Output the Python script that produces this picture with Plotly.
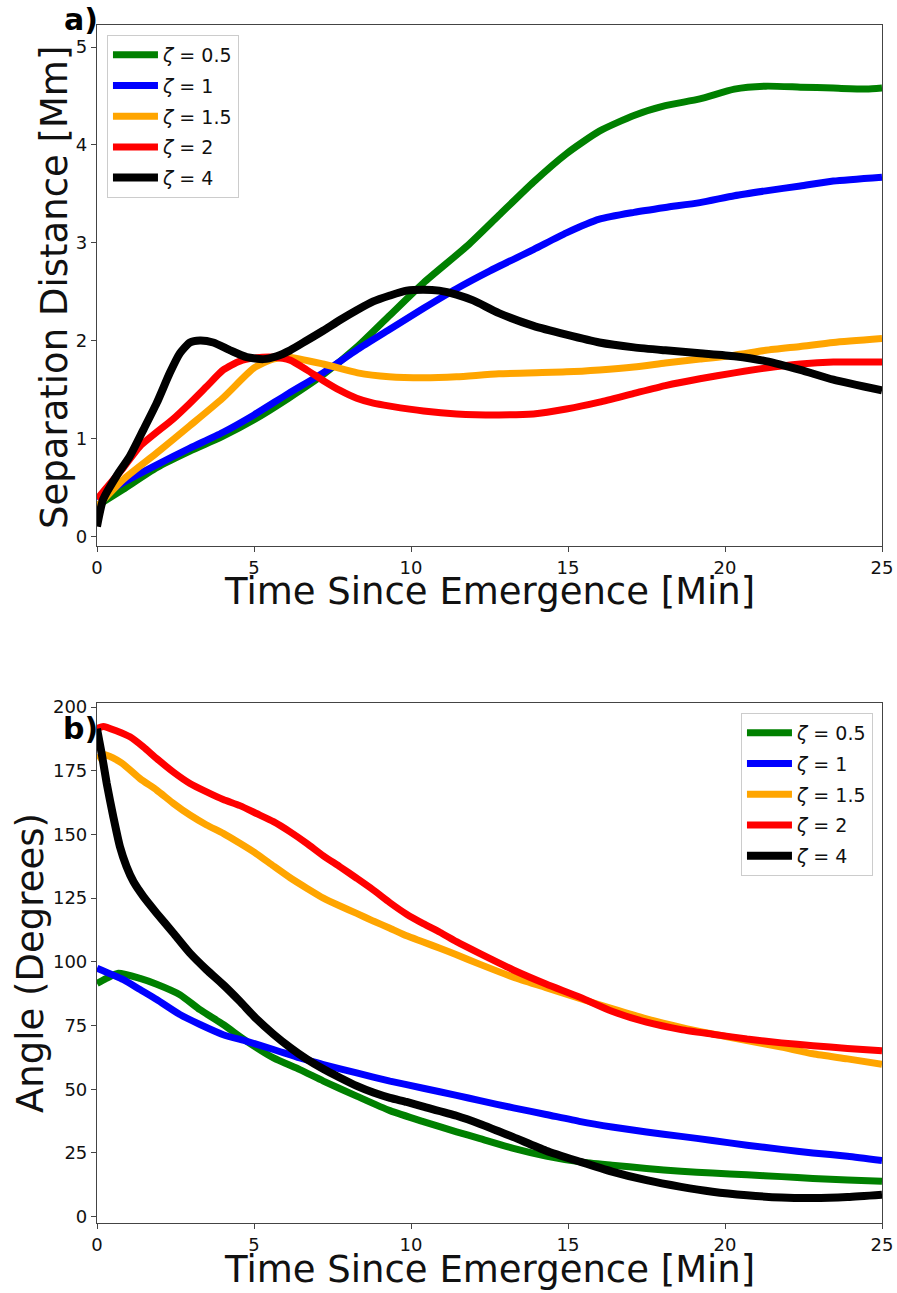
import plotly.graph_objects as go

# ---- Panel a): separation distance [Mm] vs time [min] ----
sep_labels = ["<i>ζ</i> = 0.5", "<i>ζ</i> = 1", "<i>ζ</i> = 1.5", "<i>ζ</i> = 2", "<i>ζ</i> = 4"]
colors = ["#008000", "#0000ff", "#ffa500", "#ff0000", "#000000"]

sep_t_05 = [0, 0.84, 1.9, 2.96, 4.0, 5.0, 6.1, 7.2, 8.3, 9.3, 10.4, 11.8, 12.8, 13.9, 14.95,
            16.0, 17.1, 18.1, 19.2, 20.3, 21.3, 22.4, 23.45, 24.5, 25]
sep_v_05 = [0.31, 0.48, 0.70, 0.87, 1.02, 1.19, 1.41, 1.65, 1.94, 2.25, 2.59, 2.97, 3.28, 3.62, 3.91,
            4.14, 4.30, 4.40, 4.47, 4.57, 4.60, 4.59, 4.58, 4.57, 4.58]

sep_t_1 = [0, 0.84, 1.9, 2.96, 4.0, 5.0, 6.1, 7.2, 8.3, 9.3, 10.4, 11.45, 12.5, 13.9, 14.95,
           16.0, 17.1, 18.1, 19.2, 20.3, 21.3, 22.4, 23.45, 25]
sep_v_1 = [0.38, 0.55, 0.73, 0.90, 1.06, 1.24, 1.46, 1.67, 1.91, 2.11, 2.33, 2.53, 2.71, 2.93, 3.10,
           3.24, 3.31, 3.36, 3.41, 3.48, 3.53, 3.58, 3.63, 3.67]

sep_t_15 = [0, 0.84, 1.9, 2.96, 4.0, 5.0, 5.6, 6.1, 7.2, 8.3, 9.3, 10.4, 11.45, 12.8, 14.95,
            16.0, 17.1, 18.1, 19.2, 20.3, 21.3, 22.4, 23.45, 25]
sep_v_15 = [0.30, 0.58, 0.85, 1.13, 1.41, 1.72, 1.81, 1.83, 1.76, 1.67, 1.63, 1.62, 1.63, 1.66, 1.68,
            1.70, 1.73, 1.77, 1.81, 1.85, 1.90, 1.94, 1.98, 2.02]

sep_t_2 = [0, 0.84, 1.37, 2.43, 2.96, 3.49, 4.02, 4.55, 5.0, 5.62, 6.15, 6.68, 7.21, 7.74, 8.27,
           8.8, 9.33, 10.4, 11.45, 12.8, 13.9, 14.95, 16.0, 17.1, 18.1, 19.2, 20.3, 21.3, 22.4, 23.45, 25]
sep_v_2 = [0.38, 0.70, 0.92, 1.20, 1.36, 1.53, 1.70, 1.79, 1.82, 1.83, 1.80, 1.70, 1.59, 1.49, 1.41,
           1.36, 1.33, 1.28, 1.25, 1.24, 1.25, 1.30, 1.37, 1.46, 1.54, 1.61, 1.67, 1.72, 1.76, 1.78, 1.78]

sep_t_4 = [0, 0.2, 0.63, 1.05, 1.48, 1.9, 2.32, 2.64, 2.96, 3.28, 3.7, 4.24, 4.77, 5.3, 5.72,
           6.15, 6.68, 7.2, 7.74, 8.27, 8.8, 9.33, 9.86, 10.4, 10.9, 11.45, 11.98, 12.8, 13.9, 14.95,
           16.0, 17.1, 18.1, 19.2, 20.3, 21.3, 22.4, 23.45, 25]
sep_v_4 = [0.10, 0.38, 0.62, 0.82, 1.09, 1.36, 1.67, 1.87, 1.98, 2.00, 1.98, 1.90, 1.83, 1.81, 1.84,
           1.90, 2.00, 2.10, 2.21, 2.31, 2.40, 2.46, 2.51, 2.52, 2.51, 2.47, 2.41, 2.28, 2.15, 2.06,
           1.98, 1.93, 1.90, 1.87, 1.84, 1.79, 1.70, 1.60, 1.49]

# ---- Panel b): angle [degrees] vs time [min] ----
ang_t_05 = [0, 0.3, 0.68, 1.37, 1.9, 2.64, 3.28, 4.02, 4.77, 5.62, 6.46, 7.21, 8.27, 9.33, 10.39,
            11.45, 12.2, 13.26, 14.3, 15.4, 16.4, 17.5, 18.6, 19.6, 20.7, 21.8, 22.8, 23.9, 25]
ang_v_05 = [91.5, 93.5, 95.5, 93.5, 91.2, 87.1, 81.2, 75.4, 68.8, 62.3, 57.7, 53.2, 47.3, 41.6, 37.3,
            33.3, 30.6, 26.8, 23.8, 21.5, 20.2, 18.9, 17.8, 17.1, 16.4, 15.7, 15.0, 14.4, 13.9]

ang_t_1 = [0, 0.84, 1.37, 1.9, 2.64, 3.28, 4.02, 4.77, 5.62, 6.46, 7.21, 8.27, 9.33, 10.39, 11.45,
           12.2, 13.26, 14.3, 15.4, 16.4, 17.5, 18.6, 19.6, 20.7, 21.8, 22.8, 23.9, 25]
ang_v_1 = [97.5, 93.0, 89.1, 85.2, 79.3, 75.4, 71.4, 68.8, 65.6, 62.3, 59.7, 56.4, 53.2, 50.4, 47.6,
           45.5, 42.7, 40.1, 37.3, 35.2, 33.2, 31.5, 29.9, 28.0, 26.4, 25.0, 23.7, 22.0]

ang_t_15 = [0, 0.25, 0.78, 1.37, 1.9, 2.43, 2.96, 3.49, 4.02, 4.55, 5.08, 5.62, 6.15, 6.68, 7.21,
            7.74, 8.27, 8.8, 9.33, 9.86, 10.39, 10.92, 11.45, 12.2, 13.26, 14.3, 15.4, 16.4, 17.5, 18.6,
            19.6, 20.7, 21.8, 22.8, 23.9, 25]
ang_v_15 = [179.8, 181.3, 178.1, 171.9, 167.4, 162.2, 157.6, 153.7, 150.4, 146.5, 142.4, 137.6, 133.0,
            128.9, 125.0, 121.9, 119.0, 116.0, 113.2, 110.2, 107.8, 105.3, 102.8, 99.0, 94.0, 89.9,
            85.5, 81.6, 77.6, 74.3, 71.7, 69.1, 66.5, 63.9, 61.9, 59.8]

ang_t_2 = [0, 0.2, 0.63, 1.05, 1.48, 1.9, 2.43, 2.96, 3.49, 4.02, 4.55, 5.08, 5.62, 6.15, 6.68,
           7.21, 7.74, 8.27, 8.8, 9.33, 9.86, 10.39, 10.92, 11.45, 12.2, 13.26, 14.3, 15.4, 16.4, 17.5,
           18.6, 19.6, 20.7, 21.8, 22.8, 23.9, 25]
ang_v_2 = [191.5, 192.4, 190.6, 188.3, 184.3, 179.8, 174.5, 170.0, 166.7, 163.7, 161.3, 158.2, 155.0,
           151.0, 146.5, 141.6, 137.3, 132.8, 128.2, 123.2, 118.7, 115.0, 111.6, 107.9, 103.2, 96.8,
           91.3, 86.0, 80.6, 76.3, 73.4, 71.6, 69.7, 68.2, 67.1, 66.0, 65.1]

ang_t_4 = [0, 0.15, 0.31, 0.52, 0.73, 0.94, 1.16, 1.48, 1.9, 2.43, 2.96, 3.49, 4.02, 4.55, 5.08,
           5.62, 6.15, 6.68, 7.21, 7.74, 8.27, 8.8, 9.33, 9.86, 10.39, 11.45, 12.2, 13.26, 14.3, 15.4,
           16.4, 17.5, 18.6, 19.6, 20.7, 21.8, 22.8, 23.9, 25]
ang_v_4 = [191.5, 181.7, 170.0, 156.9, 145.2, 137.4, 131.5, 125.6, 119.1, 111.3, 103.4, 96.9, 91.0,
           84.5, 77.6, 71.6, 66.4, 61.8, 57.9, 54.5, 51.3, 48.7, 46.6, 45.0, 43.2, 39.6, 36.4, 31.2,
           25.9, 21.5, 17.7, 14.3, 11.7, 9.8, 8.4, 7.5, 7.3, 7.7, 8.6]

x_ticks = [0, 5, 10, 15, 20, 25]
sep_ticks = [0, 1, 2, 3, 4, 5]
ang_ticks = [0, 25, 50, 75, 100, 125, 150, 175, 200]

sep_series = [(sep_t_05, sep_v_05), (sep_t_1, sep_v_1), (sep_t_15, sep_v_15),
              (sep_t_2, sep_v_2), (sep_t_4, sep_v_4)]
ang_series = [(ang_t_05, ang_v_05), (ang_t_1, ang_v_1), (ang_t_15, ang_v_15),
              (ang_t_2, ang_v_2), (ang_t_4, ang_v_4)]

FONT = "DejaVu Sans"
fig = go.Figure()

for i, (t, v) in enumerate(sep_series):
    fig.add_trace(go.Scatter(
        x=t, y=v, mode="lines", name=sep_labels[i], legendgroup="a%d" % i,
        line=dict(color=colors[i], width=8 if i == 4 else 7, shape="spline", smoothing=0.6),
        xaxis="x", yaxis="y", legend="legend"))

for i, (t, v) in enumerate(ang_series):
    fig.add_trace(go.Scatter(
        x=t, y=v, mode="lines", name=sep_labels[i], legendgroup="b%d" % i,
        line=dict(color=colors[i], width=8 if i == 4 else 7, shape="spline", smoothing=0.6),
        xaxis="x2", yaxis="y2", legend="legend2"))

axis_common = dict(
    showline=True, linecolor="#444444", linewidth=1.2, mirror=True,
    ticks="outside", ticklen=5, tickwidth=1, tickcolor="#444444",
    showgrid=False, zeroline=False, automargin=False,
    tickfont=dict(family=FONT, size=18, color="#111111"),
)

top_dom = [0.5651, 1.0]
bot_dom = [0.0, 0.4341]

legend_common = dict(
    bgcolor="white", bordercolor="#cccccc", borderwidth=1,
    font=dict(family=FONT, size=19, color="#111111"),
    itemwidth=45, tracegroupgap=3,
)

fig.update_layout(
    width=897, height=1293,
    margin=dict(l=97, r=15, t=25, b=70, autoexpand=False),
    paper_bgcolor="white", plot_bgcolor="white",
    font=dict(family=FONT, color="#111111"),
    xaxis=dict(domain=[0, 1], anchor="y", range=[0, 25], tickvals=x_ticks, **axis_common),
    yaxis=dict(domain=top_dom, anchor="x", range=[-0.10, 5.225], tickvals=sep_ticks, **axis_common),
    xaxis2=dict(domain=[0, 1], anchor="y2", range=[0, 25], tickvals=x_ticks, **axis_common),
    yaxis2=dict(domain=bot_dom, anchor="x2", range=[-2.5, 201.6], tickvals=ang_ticks, **axis_common),
    legend=dict(x=0.0127, y=0.9917, xanchor="left", yanchor="top", **legend_common),
    legend2=dict(x=0.9885, y=0.4257, xanchor="right", yanchor="top", **legend_common),
    showlegend=True,
)

title_font = dict(family=FONT, size=37, color="#111111")
annotations = [
    dict(text="Time Since Emergence [Min]", x=0.5, y=0.527, xref="paper", yref="paper",
         showarrow=False, font=title_font, xanchor="center", yanchor="middle"),
    dict(text="Time Since Emergence [Min]", x=0.5, y=-0.039, xref="paper", yref="paper",
         showarrow=False, font=title_font, xanchor="center", yanchor="middle"),
    dict(text="Separation Distance [Mm]", x=-0.0535, y=0.7805, xref="paper", yref="paper",
         showarrow=False, font=title_font, textangle=-90, xanchor="center", yanchor="middle"),
    dict(text="Angle (Degrees)", x=-0.0854, y=0.217, xref="paper", yref="paper",
         showarrow=False, font=title_font, textangle=-90, xanchor="center", yanchor="middle"),
    dict(text="<b>a)</b>", x=-0.0204, y=1.0042, xref="paper", yref="paper",
         showarrow=False, font=dict(family=FONT, size=30, color="#000000"),
         xanchor="center", yanchor="middle"),
    dict(text="<b>b)</b>", x=-0.0204, y=0.4124, xref="paper", yref="paper",
         showarrow=False, font=dict(family=FONT, size=30, color="#000000"),
         xanchor="center", yanchor="middle"),
]
fig.update_layout(annotations=annotations)

fig.write_html("out.html")
